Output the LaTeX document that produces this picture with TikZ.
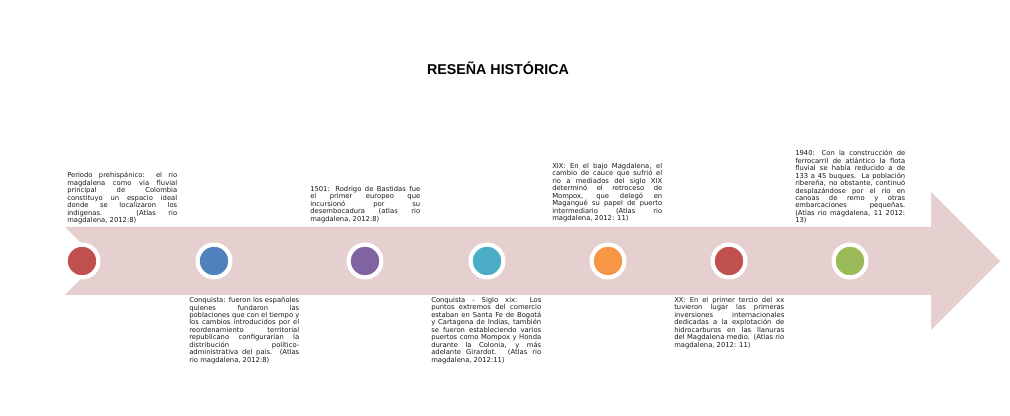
\documentclass[tikz,border=0pt]{standalone}
\usepackage{fontspec}
\setmainfont{DejaVu Sans}
\newfontfamily\titlefont{Liberation Sans}
\definecolor{arrowpink}{HTML}{E6CFCF}
\definecolor{cred}{HTML}{C0504D}
\definecolor{cblue}{HTML}{4F81BD}
\definecolor{cpurple}{HTML}{8064A2}
\definecolor{caqua}{HTML}{4BACC6}
\definecolor{corange}{HTML}{F79646}
\definecolor{cgreen}{HTML}{9BBB59}
\definecolor{txt}{HTML}{1A1A1A}
\tikzset{
  desc/.style={anchor=north west, inner sep=0pt, text width=82.5pt, align=justify,
    font=\fontsize{5.1}{5.6}\selectfont, text=txt},
  dot/.style={circle, inner sep=0pt, outer sep=0pt, minimum size=24.6pt, draw=white, line width=3.15pt},
  titlestyle/.style={inner sep=0pt, font=\titlefont\fontsize{10.7}{12}\selectfont\bfseries, text=black}
}
\begin{document}
\begin{tikzpicture}[x=0.75pt, y=-0.75pt]
\useasboundingbox (0,0) rectangle (1010,416);
\fill[white] (0,0) rectangle (1010,416);
\node[titlestyle] (title) at (498,68) {RESEÑA HISTÓRICA};
\fill[arrowpink] (65,227) -- (931,227) -- (931,192) -- (1000,261) -- (931,330) -- (931,295) -- (65,295) -- (99,261) -- cycle;
\node[dot, fill=cred] (d1) at (82,261) {};
\node[dot, fill=cblue] (d2) at (214,261) {};
\node[dot, fill=cpurple] (d3) at (365,261) {};
\node[dot, fill=caqua] (d4) at (487,261) {};
\node[dot, fill=corange] (d5) at (608,261) {};
\node[dot, fill=cred] (d6) at (729,261) {};
\node[dot, fill=cgreen] (d7) at (850,261) {};
\node[desc] (t1) at (67,172) {Periodo prehispánico: el rio\linebreak magdalena como via fluvial\linebreak principal de Colombia\linebreak constituyo un espacio ideal\linebreak donde se localizaron los\linebreak indigenas. (Atlas rio\linebreak magdalena, 2012:8)};
\node[desc] (t2) at (189,297) {Conquista: fueron los españoles\linebreak quienes fundaron las\linebreak poblaciones que con el tiempo y\linebreak los cambios introducidos por el\linebreak reordenamiento territorial\linebreak republicano configurarían la\linebreak distribución político-\linebreak administrativa del país. (Atlas\linebreak rio magdalena, 2012:8)};
\node[desc] (t3) at (310,186) {1501: Rodrigo de Bastidas fue\linebreak el primer europeo que\linebreak incursionó por su\linebreak desembocadura (atlas rio\linebreak magdalena, 2012:8)};
\node[desc] (t4) at (431,297) {Conquista - Siglo xix: Los\linebreak puntos extremos del comercio\linebreak estaban en Santa Fe de Bogotá\linebreak y Cartagena de Indias, también\linebreak se fueron estableciendo varios\linebreak puertos como Mompox y Honda\linebreak durante la Colonia, y más\linebreak adelante Girardot. (Atlas rio\linebreak magdalena, 2012:11)};
\node[desc] (t5) at (552,163) {XIX: En el bajo Magdalena, el\linebreak cambio de cauce que sufrió el\linebreak rio a mediados del siglo XIX\linebreak determinó el retroceso de\linebreak Mompox, que delegó en\linebreak Magangué su papel de puerto\linebreak intermediario (Atlas rio\linebreak magdalena, 2012: 11)};
\node[desc] (t6) at (674,297) {XX: En el primer tercio del xx\linebreak tuvieron lugar las primeras\linebreak inversiones internacionales\linebreak dedicadas a la explotación de\linebreak hidrocarburos en las llanuras\linebreak del Magdalena medio. (Atlas rio\linebreak magdalena, 2012: 11)};
\node[desc] (t7) at (795,150) {1940: Con la construcción de\linebreak ferrocarril de atlántico la flota\linebreak fluvial se había reducido a de\linebreak 133 a 45 buques.\ \ La población\linebreak ribereña, no obstante, continuó\linebreak desplazándose por el río en\linebreak canoas de remo y otras\linebreak embarcaciones pequeñas.\linebreak (Atlas rio magdalena, 11 2012:\linebreak 13)};
\end{tikzpicture}
\end{document}
